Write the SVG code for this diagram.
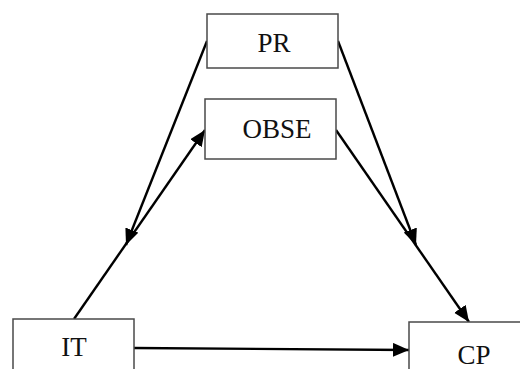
<svg xmlns="http://www.w3.org/2000/svg" width="520" height="369" viewBox="0 0 520 369">
<style>
.box{fill:#fff;stroke:#4a4a4a;stroke-width:1.5}
.lbl{font-family:'Liberation Serif','DejaVu Serif','Times New Roman',serif;font-size:27px;fill:#111;text-anchor:middle}
.edge{stroke:#000;stroke-width:2.4;fill:none;marker-end:url(#ah)}
</style>
<defs>
<marker id="ah" markerUnits="userSpaceOnUse" markerWidth="18" markerHeight="16" refX="16" refY="7" orient="auto">
<path d="M0,0 L16,7 L0,14 Z" fill="#000"/>
</marker>
</defs>
<rect width="520" height="369" fill="#fff"/>
<g id="connectors">
<line class="edge" x1="207" y1="41" x2="126" y2="245"/>
<line class="edge" x1="74" y1="319" x2="205" y2="130"/>
<line class="edge" x1="336" y1="130" x2="469" y2="322"/>
<line class="edge" x1="338" y1="41" x2="416" y2="245"/>
<line class="edge" x1="134" y1="348" x2="409" y2="350"/>
</g>
<g id="PR"><rect class="box" x="207" y="14" width="131" height="54"/><text class="lbl" x="274" y="52" font-family="Liberation Serif, serif">PR</text></g>
<g id="OBSE"><rect class="box" x="205" y="99" width="131" height="60"/><text class="lbl" x="277" y="138" font-family="Liberation Serif, serif">OBSE</text></g>
<g id="IT"><rect class="box" x="13" y="319" width="121" height="70"/><text class="lbl" x="74" y="356" font-family="Liberation Serif, serif">IT</text></g>
<g id="CP"><rect class="box" x="409" y="322" width="131" height="70"/><text class="lbl" x="474" y="364" font-family="Liberation Serif, serif">CP</text></g>
</svg>
